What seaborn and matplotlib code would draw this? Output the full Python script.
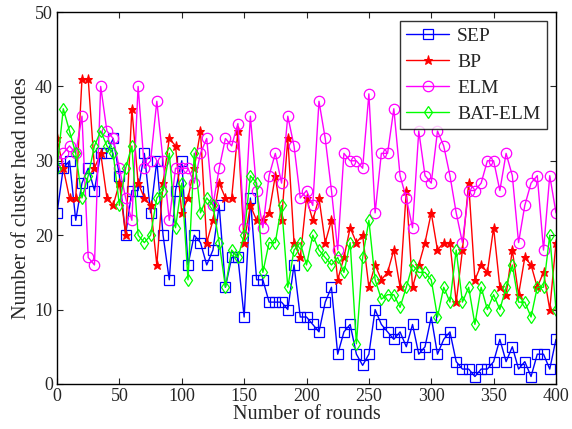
import numpy as np
import pandas as pd
import matplotlib
matplotlib.use("Agg")
import matplotlib.pyplot as plt
import seaborn as sns

rounds = list(range(0, 401, 5))

sep = [23, 29, 30, 22, 27, 29, 26, 31, 31, 33, 28, 20, 26, 26, 31, 23, 30, 20, 14, 26,
       30, 16, 20, 19, 16, 18, 24, 13, 17, 17, 9, 25, 14, 14, 11, 11, 11, 10, 16, 9,
       9, 8, 7, 11, 13, 4, 7, 8, 4, 2.5, 4, 10, 8, 7, 6, 7, 5, 8, 4, 5,
       9, 4, 6, 7, 3, 2, 2, 1, 2, 2, 3, 6, 3, 5, 2, 3, 1, 4, 4, 2, 6]

bp = [33, 29, 25, 25, 41, 41, 29, 31, 25, 24, 27, 20, 37, 27, 25, 24, 16, 27, 33, 32,
      23, 25, 29, 34, 19, 22, 27, 25, 25, 34, 19, 24, 22, 22, 23, 28, 22, 33, 19, 17,
      25, 22, 25, 19, 22, 14, 17, 21, 19, 20, 13, 16, 14, 15, 18, 13, 26, 13, 16, 19,
      23, 18, 19, 19, 11, 18, 27, 14, 16, 15, 21, 13, 12, 18, 12, 17, 16, 13, 15, 10, 19]

elm = [30, 31, 32, 31, 36, 17, 16, 40, 34, 33, 29, 25, 22, 40, 29, 30, 38, 30, 22, 29,
       29, 29, 27, 31, 33, 24, 29, 33, 32, 35, 21, 36, 26, 21, 28, 31, 27, 36, 32, 25,
       26, 24, 38, 33, 26, 18, 31, 30, 30, 29, 39, 23, 31, 31, 37, 28, 25, 21, 34, 28,
       27, 34, 32, 28, 23, 19, 26, 26, 27, 30, 30, 26, 31, 28, 19, 24, 27, 28, 18, 28, 23]

bat_elm = [29, 37, 34, 31, 25, 28, 32, 34, 32, 31, 24, 29, 32, 20, 19, 20, 25, 26, 31, 21,
           27, 14, 31, 23, 25, 24, 19, 13, 18, 17, 20, 28, 27, 15, 19, 19, 24, 13, 18, 19,
           16, 20, 18, 17, 16, 17, 15, 19, 5.4, 17, 22, 14, 11.4, 12, 12, 10.3, 13, 16, 15, 15,
           14, 9, 13, 11, 18, 11, 13, 8, 13, 10, 12, 10, 13, 16, 11, 11, 9, 13, 13, 20, 10]

series_names = ["SEP", "BP", "ELM", "BAT-ELM"]
colors = ["#0000FF", "#FF0000", "#FF00FF", "#00FF00"]
markers = ["s", "*", "o", "d"]

sns.set_theme(style="ticks")
plt.rcParams["font.family"] = "serif"
plt.rcParams["font.serif"] = ["Liberation Serif", "DejaVu Serif"]
plt.rcParams["mathtext.fontset"] = "stix"
SERIF = ["Liberation Serif", "DejaVu Serif"]

fig = plt.figure(figsize=(5.72, 4.29), dpi=100)
ax = fig.add_axes([0.0997, 0.105, 0.8723, 0.867])

all_vals = [sep, bp, elm, bat_elm]
for name, vals, c, m in zip(series_names, all_vals, colors, markers):
    df = pd.DataFrame({"round": rounds, "value": vals})
    if m == "*":
        kw = dict(marker=m, markersize=6.5, markerfacecolor=c, markeredgecolor=c)
    elif m == "o":
        kw = dict(marker=m, markersize=7.5, markerfacecolor="none",
                  markeredgecolor=c, markeredgewidth=0.9)
    else:
        kw = dict(marker=m, markersize=6.5, markerfacecolor="none",
                  markeredgecolor=c, markeredgewidth=0.9)
    sns.lineplot(data=df, x="round", y="value", ax=ax, color=c, linewidth=1.0,
                 label=name, **kw)

ax.set_xlim(0, 400)
ax.set_ylim(0, 50)
ax.set_xticks(range(0, 401, 50))
ax.set_yticks(range(0, 51, 10))
ax.set_xlabel("Number of rounds", fontsize=14.5, labelpad=0, family=SERIF)
ax.set_ylabel("Number of cluster head nodes", fontsize=14.5, labelpad=3, family=SERIF)
ax.tick_params(direction="in", top=True, right=True, labelsize=13, length=4,
               width=0.8, pad=3)
for lab in ax.get_xticklabels() + ax.get_yticklabels():
    lab.set_family(SERIF)
for s in ax.spines.values():
    s.set_linewidth(1.0)
    s.set_color("black")

leg = ax.legend(loc="upper right", frameon=True, fancybox=False,
                edgecolor="black", borderpad=0.35, labelspacing=0.42,
                handlelength=2.2, handletextpad=0.4, borderaxespad=0.45,
                prop={"family": SERIF, "size": 14})
leg.get_frame().set_linewidth(1.0)

fig.savefig("out.png", dpi=100)
